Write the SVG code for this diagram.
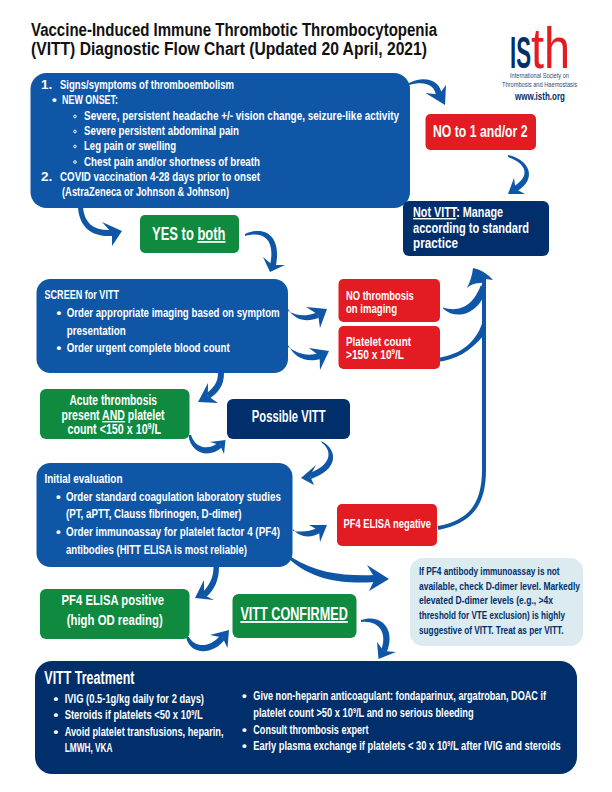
<svg xmlns="http://www.w3.org/2000/svg" width="612" height="792" viewBox="0 0 612 792">
<style>
text{font-family:"Liberation Sans Narrow","Liberation Sans",Arial,sans-serif;font-weight:700;fill:#fff;font-size:13.500px}
.k{fill:#111;font-size:17.500px}.n{fill:#002f6c;font-size:11.500px}.u{text-decoration:underline}
.blue{fill:#0f57a6}.red{fill:#e31b23}.green{fill:#0f8a3e}.navy{fill:#002f6c}.light{fill:#dcebf0}
.s{fill:none;stroke:#0f57a6;stroke-width:4}.h{fill:#0f57a6}
.lg{fill:#33496f;font-size:7px;font-weight:400}
</style>
<rect width="612" height="792" fill="#fff"/>
<g id="title">
<text class="k" x="31" y="36" textLength="406" lengthAdjust="spacingAndGlyphs">Vaccine-Induced Immune Thrombotic Thrombocytopenia</text>
<text class="k" x="31" y="55" textLength="396" lengthAdjust="spacingAndGlyphs">(VITT) Diagnostic Flow Chart (Updated 20 April, 2021)</text>
</g>
<g id="logo">
<text x="510" y="68" style="font-size:44px;fill:#002f6c" textLength="21" lengthAdjust="spacingAndGlyphs">IS</text>
<text x="531" y="68" style="font-size:58px;fill:#e31b23;font-weight:400" textLength="39" lengthAdjust="spacingAndGlyphs">th</text>
<text class="lg" x="510" y="77.500" textLength="59" lengthAdjust="spacingAndGlyphs">International Society on</text>
<text class="lg" x="502" y="86.700" textLength="75" lengthAdjust="spacingAndGlyphs">Thrombosis and Haemostasis</text>
<text x="515" y="100" style="font-size:10px;fill:#002f6c" textLength="50" lengthAdjust="spacingAndGlyphs">www.isth.org</text>
</g>
<g id="connectors">
<path class="h" d="M409,83C422,76 441,78 442,96L436,96C435,83 422,81 409,85Z"/><path class="h" d="M445,105L446,85L439,94.600L425.500,93Z"/>
<path class="h" d="M508,155C531,160 537,180 516.500,191.500L513.500,186.500C530,177 528,164 508,157Z"/><path class="h" d="M508,194L525,194L515.500,189L514,178Z"/>
<path class="h" d="M78,208C80,228 92,237 112,236L112,230C94,231 85,224 83,208Z"/><path class="h" d="M122,231L102,222L112,233L112,246Z"/>
<path class="h" d="M245,234C262,226 282,233 276,265L270,265C276,238 262,231 245,236Z"/><path class="h" d="M270,272L285,265L272.600,265L263,257Z"/>
<path class="h" d="M288,309C295,320 306,323 319,317.800L317,312.200C306,317 297,316 288,311Z"/><path class="h" d="M327,309L306,307L318,314.500L320,328Z"/>
<path class="h" d="M288,345C295,358 306,363 320.800,358.900L319.200,353.100C306,357 297,353 288,347Z"/><path class="h" d="M329,351L309,348L319.600,356L320,370Z"/>
<path class="s" d="M438,528C470,522 484,505 484,470L484,278"/><path class="h" d="M473,268Q484,270 493,280L486,279L481,283Q472,283 467,288Q472,278 473,268Z"/>
<path class="h" d="M443,307.500C458,312 472,308 481,285L486,290C480,312 458,322 443,308.500Z"/>
<path class="h" d="M437,358C462,355 478,340 483,320L484,335C470,352 455,360 437,362Z"/>
<path class="h" d="M218,373C218,383 213,388 206.300,393.500L209.700,398.500C219,392 224,385 224,373Z"/><path class="h" d="M198,402L218,403L207.800,396L208,383Z"/>
<path class="h" d="M188.500,435C190,452 208,460 222,447.300L218,442.700C208,451 195,448 191,435Z"/><path class="h" d="M225.500,440L210,442L220,445L224,454Z"/>
<path class="h" d="M321,441C339,450 338,470 311,478.900L309,473.100C331,466 333,451 322,443Z"/><path class="h" d="M301,478L316,465L310,476L314,485Z"/>
<path class="h" d="M293,529C299,537 310,539 320.700,532.500L317.300,527.500C310,532 301,532 293,531Z"/><path class="h" d="M327,525L309,525L319,530.500L320,542Z"/>
<path class="h" d="M289,559C313,581 345,584 375,582L375,575C345,576 318,574 291,557Z"/><path class="h" d="M389,579L367,565L375,578.400L369,591Z"/>
<path class="h" d="M213.500,567C213.500,578 209,586 202,592.800L206,597.200C214,590 219,581 219,567Z"/><path class="h" d="M195,598L214,600L204,595L204,580Z"/>
<path class="h" d="M186,637C190,655 212,656 224.800,639.500L220.200,635.500C210,648 195,648 189,637Z"/><path class="h" d="M229,630L210,635L222.500,637.500L227.500,648Z"/>
<path class="h" d="M361,620C382,613 396,630 386.800,652L381.200,650C388,632 378,620 361,622Z"/><path class="h" d="M378.500,659L396,652L383.700,651L377,642Z"/>
</g>
<g id="n-signs">
<rect class="blue" x="30.500" y="73" width="379.500" height="135" rx="16"/>
<text x="41" y="89">1.</text><text x="60" y="89" textLength="174" lengthAdjust="spacingAndGlyphs">Signs/symptoms of thromboembolism</text>
<text x="52" y="104">•</text><text x="62" y="104" textLength="56" lengthAdjust="spacingAndGlyphs">NEW ONSET:</text>
<g>
<circle cx="75" cy="116.500" r="1.300" fill="none" stroke="#fff"/><circle cx="75" cy="131.500" r="1.300" fill="none" stroke="#fff"/><circle cx="75" cy="146.500" r="1.300" fill="none" stroke="#fff"/><circle cx="75" cy="162" r="1.300" fill="none" stroke="#fff"/>
</g>
<text x="84" y="120" textLength="315" lengthAdjust="spacingAndGlyphs">Severe, persistent headache +/- vision change, seizure-like activity</text>
<text x="84" y="135" textLength="155" lengthAdjust="spacingAndGlyphs">Severe persistent abdominal pain</text>
<text x="84" y="150" textLength="92" lengthAdjust="spacingAndGlyphs">Leg pain or swelling</text>
<text x="84" y="165.500" textLength="176" lengthAdjust="spacingAndGlyphs">Chest pain and/or shortness of breath</text>
<text x="41" y="180.500">2.</text><text x="60" y="180.500" textLength="200" lengthAdjust="spacingAndGlyphs">COVID vaccination 4-28 days prior to onset</text>
<text x="62" y="195.500" textLength="167" lengthAdjust="spacingAndGlyphs">(AstraZeneca or Johnson &amp; Johnson)</text>
</g>
<g id="n-no12"><rect class="red" x="425.500" y="114" width="110.500" height="36" rx="5"/>
<text x="433" y="137" style="font-size:16px" textLength="94.500" lengthAdjust="spacingAndGlyphs">NO to 1 and/or 2</text></g>
<g id="n-notvitt"><rect class="navy" x="403" y="201" width="146" height="55" rx="6"/>
<text x="413" y="217" style="font-size:14.500px" textLength="90" lengthAdjust="spacingAndGlyphs"><tspan class="u">Not VITT</tspan>: Manage</text>
<text x="413" y="232.700" style="font-size:14.500px" textLength="116" lengthAdjust="spacingAndGlyphs">according to standard</text>
<text x="413" y="248" style="font-size:14.500px" textLength="45" lengthAdjust="spacingAndGlyphs">practice</text></g>
<g id="n-yes"><rect class="green" x="140" y="215" width="99" height="38" rx="5"/>
<text x="152" y="240" style="font-size:18px" textLength="73.500" lengthAdjust="spacingAndGlyphs">YES to <tspan class="u">both</tspan></text></g>
<g id="n-screen"><rect class="blue" x="36.500" y="279" width="251.500" height="94" rx="14"/>
<text x="44.500" y="299" textLength="74.500" lengthAdjust="spacingAndGlyphs">SCREEN for VITT</text>
<text x="56.500" y="317">•</text><text x="66.700" y="317" textLength="213" lengthAdjust="spacingAndGlyphs">Order appropriate imaging based on symptom</text>
<text x="66.700" y="334.700" textLength="59" lengthAdjust="spacingAndGlyphs">presentation</text>
<text x="56.500" y="352">•</text><text x="66.700" y="352" textLength="163" lengthAdjust="spacingAndGlyphs">Order urgent complete blood count</text></g>
<g id="n-nothrombosis"><rect class="red" x="338.500" y="279" width="101.500" height="43" rx="5"/>
<text x="346" y="299.500" textLength="67.700" lengthAdjust="spacingAndGlyphs">NO thrombosis</text>
<text x="346" y="313" textLength="51" lengthAdjust="spacingAndGlyphs">on imaging</text></g>
<g id="n-platelet"><rect class="red" x="338.500" y="326" width="101.500" height="43" rx="5"/>
<text x="346" y="346" textLength="65" lengthAdjust="spacingAndGlyphs">Platelet count</text>
<text x="346" y="359" textLength="58" lengthAdjust="spacingAndGlyphs">&gt;150 x 10<tspan dy="-5" style="font-size:8px">9</tspan><tspan dy="5">/L</tspan></text></g>
<g id="n-acute"><rect class="green" x="40" y="389" width="149.500" height="50" rx="6"/>
<text x="69.400" y="405" style="font-size:14px" textLength="87.600" lengthAdjust="spacingAndGlyphs">Acute thrombosis</text>
<text x="61.600" y="420" style="font-size:14px" textLength="103" lengthAdjust="spacingAndGlyphs">present <tspan class="u">AND</tspan> platelet</text>
<text x="67.500" y="434" style="font-size:14px" textLength="93.500" lengthAdjust="spacingAndGlyphs">count &lt;150 x 10<tspan dy="-5" style="font-size:9px">9</tspan><tspan dy="5">/L</tspan></text></g>
<g id="n-possible"><rect class="navy" x="227" y="399" width="123" height="40" rx="6"/>
<text x="251.800" y="421.700" style="font-size:16px" textLength="73.700" lengthAdjust="spacingAndGlyphs">Possible VITT</text></g>
<g id="n-initial"><rect class="blue" x="36.500" y="463" width="256" height="104" rx="14"/>
<text x="44.500" y="482.700" textLength="78" lengthAdjust="spacingAndGlyphs">Initial evaluation</text>
<text x="56" y="500.700">•</text><text x="66" y="500.700" textLength="214.800" lengthAdjust="spacingAndGlyphs">Order standard coagulation laboratory studies</text>
<text x="66" y="518" textLength="175.600" lengthAdjust="spacingAndGlyphs">(PT, aPTT, Clauss fibrinogen, D-dimer)</text>
<text x="56" y="536">•</text><text x="66" y="536" textLength="214" lengthAdjust="spacingAndGlyphs">Order immunoassay for platelet factor 4 (PF4)</text>
<text x="66" y="553.700" textLength="181" lengthAdjust="spacingAndGlyphs">antibodies (HITT ELISA is most reliable)</text></g>
<g id="n-neg"><rect class="red" x="337" y="504" width="100" height="42" rx="5"/>
<text x="343.500" y="527.700" textLength="87.500" lengthAdjust="spacingAndGlyphs">PF4 ELISA negative</text></g>
<g id="n-dimer"><rect class="light" x="410" y="558" width="173" height="88" rx="13"/>
<text class="n" x="419" y="575" textLength="140.600" lengthAdjust="spacingAndGlyphs">If PF4 antibody immunoassay is not</text>
<text class="n" x="419" y="589.700" textLength="161" lengthAdjust="spacingAndGlyphs">available, check D-dimer level. Markedly</text>
<text class="n" x="419" y="604.300" textLength="134" lengthAdjust="spacingAndGlyphs">elevated D-dimer levels (e.g., &gt;4x</text>
<text class="n" x="419" y="619" textLength="146" lengthAdjust="spacingAndGlyphs">threshold for VTE exclusion) is highly</text>
<text class="n" x="419" y="634" textLength="144.500" lengthAdjust="spacingAndGlyphs">suggestive of VITT. Treat as per VITT.</text></g>
<g id="n-pos"><rect class="green" x="40" y="589" width="149.500" height="50" rx="6"/>
<text x="61.600" y="605" style="font-size:15.500px" textLength="102.400" lengthAdjust="spacingAndGlyphs">PF4 ELISA positive</text>
<text x="66.700" y="625" style="font-size:15.500px" textLength="96" lengthAdjust="spacingAndGlyphs">(high OD reading)</text></g>
<g id="n-confirmed"><rect class="green" x="232.500" y="594" width="124" height="44" rx="6"/>
<text class="u" x="240.400" y="620" style="font-size:19px" textLength="107.400" lengthAdjust="spacingAndGlyphs">VITT CONFIRMED</text></g>
<g id="n-treatment"><rect class="navy" x="35" y="661" width="542" height="113" rx="17"/>
<text x="44.300" y="683.700" style="font-size:18px" textLength="90.200" lengthAdjust="spacingAndGlyphs">VITT Treatment</text>
<text x="53.500" y="703">•</text><text x="64.700" y="703" textLength="139.300" lengthAdjust="spacingAndGlyphs">IVIG (0.5-1g/kg daily for 2 days)</text>
<text x="53.500" y="719.300">•</text><text x="64.700" y="719.300" textLength="138" lengthAdjust="spacingAndGlyphs">Steroids if platelets &lt;50 x 10<tspan dy="-4" style="font-size:8px">9</tspan><tspan dy="4">/L</tspan></text>
<text x="53.500" y="736">•</text><text x="64.700" y="736" textLength="158.800" lengthAdjust="spacingAndGlyphs">Avoid platelet transfusions, heparin,</text>
<text x="64.700" y="752" textLength="47.800" lengthAdjust="spacingAndGlyphs">LMWH, VKA</text>
<text x="242" y="700">•</text><text x="253.300" y="700" textLength="292.700" lengthAdjust="spacingAndGlyphs">Give non-heparin anticoagulant: fondaparinux, argatroban, DOAC if</text>
<text x="253.300" y="717" textLength="220.400" lengthAdjust="spacingAndGlyphs">platelet count &gt;50 x 10<tspan dy="-4" style="font-size:8px">9</tspan><tspan dy="4">/L and no serious bleeding</tspan></text>
<text x="242" y="733.700">•</text><text x="253.300" y="733.700" textLength="115.300" lengthAdjust="spacingAndGlyphs">Consult thrombosis expert</text>
<text x="242" y="749.700">•</text><text x="253.300" y="749.700" textLength="307.500" lengthAdjust="spacingAndGlyphs">Early plasma exchange if platelets &lt; 30 x 10<tspan dy="-4" style="font-size:8px">9</tspan><tspan dy="4">/L after IVIG and steroids</tspan></text>
</g>
</svg>
